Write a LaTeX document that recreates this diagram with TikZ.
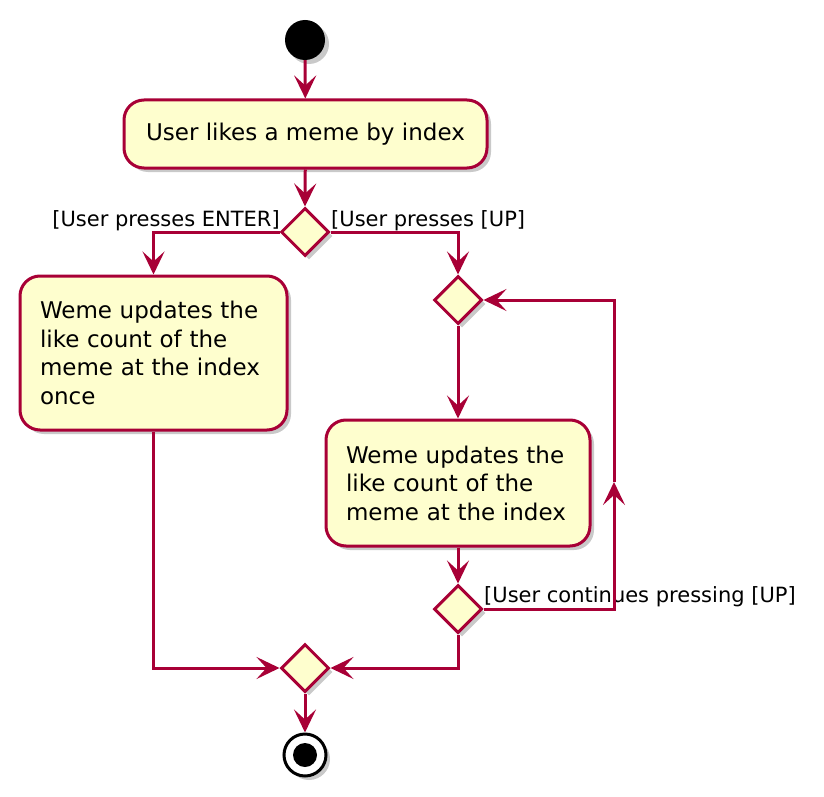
\documentclass[tikz,border=0pt]{standalone}
\usepackage{fontspec}
\setmainfont{DejaVu Sans}
\usetikzlibrary{arrows.meta,shapes.geometric,shadows}
\definecolor{umlred}{HTML}{A80036}
\definecolor{umlfill}{HTML}{FEFECE}
\begin{document}
\begin{tikzpicture}[x=1pt,y=-1pt,
  shade/.style={drop shadow={shadow xshift=4pt,shadow yshift=-4pt,opacity=0.3,fill=black!70}},
  actbox/.style={draw=umlred,fill=umlfill,line width=3pt,rounded corners=20pt,shade,
    inner xsep=20pt,inner ysep=0pt,font=\fontsize{23}{28.5}\selectfont},
  decide/.style={diamond,draw=umlred,fill=umlfill,line width=3pt,shade,
    minimum width=48pt,minimum height=48pt,inner sep=0pt},
  guard/.style={font=\fontsize{21}{25}\selectfont,inner sep=0pt},
  flow/.style={draw=umlred,line width=3pt,-{Stealth[length=23pt,width=22pt,inset=10pt]}},
  plain/.style={draw=umlred,line width=3pt}]
\useasboundingbox (0,0) rectangle (824,797);
\node[circle,fill=black,minimum size=40pt,inner sep=0pt,shade] (start) at (305,40) {};
\node[actbox,minimum width=363pt,minimum height=68pt] (like) at (305.5,134) {User likes a meme by index};
\node[decide] (d1) at (305,232) {};
\node[actbox,minimum width=267pt,minimum height=154pt,text width=227pt,align=left] (once) at (153.5,353)
  {Weme updates the\\like count of the\\meme at the index\\once};
\node[decide] (d2) at (458,300) {};
\node[actbox,minimum width=264pt,minimum height=126pt,text width=224pt,align=left] (upd) at (458,483)
  {Weme updates the\\like count of the\\meme at the index};
\node[decide] (d3) at (458,609) {};
\node[decide] (merge) at (305,668) {};
\node[circle,draw=black,fill=white,line width=3pt,minimum size=42pt,inner sep=0pt,shade] (stop) at (305,755) {};
\node[circle,fill=black,minimum size=24pt,inner sep=0pt] (stopdot) at (305,755) {};
\node[guard,anchor=east] (g1) at (280,221) {[User presses ENTER]};
\node[guard,anchor=west] (g2) at (331,221) {[User presses [UP]};
\node[guard,anchor=west] (g3) at (484,597) {[User continues pressing [UP]};
\coordinate (lb) at (614,609);
\coordinate (lm) at (614,482);
\coordinate (lt) at (614,300);
\draw[flow] (start) -- (like);
\draw[flow] (like) -- (d1.north);
\draw[flow] (d1.west) -| (once.north);
\draw[flow] (d1.east) -| (d2.north);
\draw[flow] (d2.south) -- (upd.north);
\draw[flow] (upd.south) -- (d3.north);
\draw[flow] (d3.east) -- (lb) -- (lm);
\draw[flow] (lm) -- (lt) -- (d2.east);
\draw[flow] (once.south) |- (merge.west);
\draw[flow] (d3.south) |- (merge.east);
\draw[flow] (merge.south) -- (stop.north);
\end{tikzpicture}
\end{document}
